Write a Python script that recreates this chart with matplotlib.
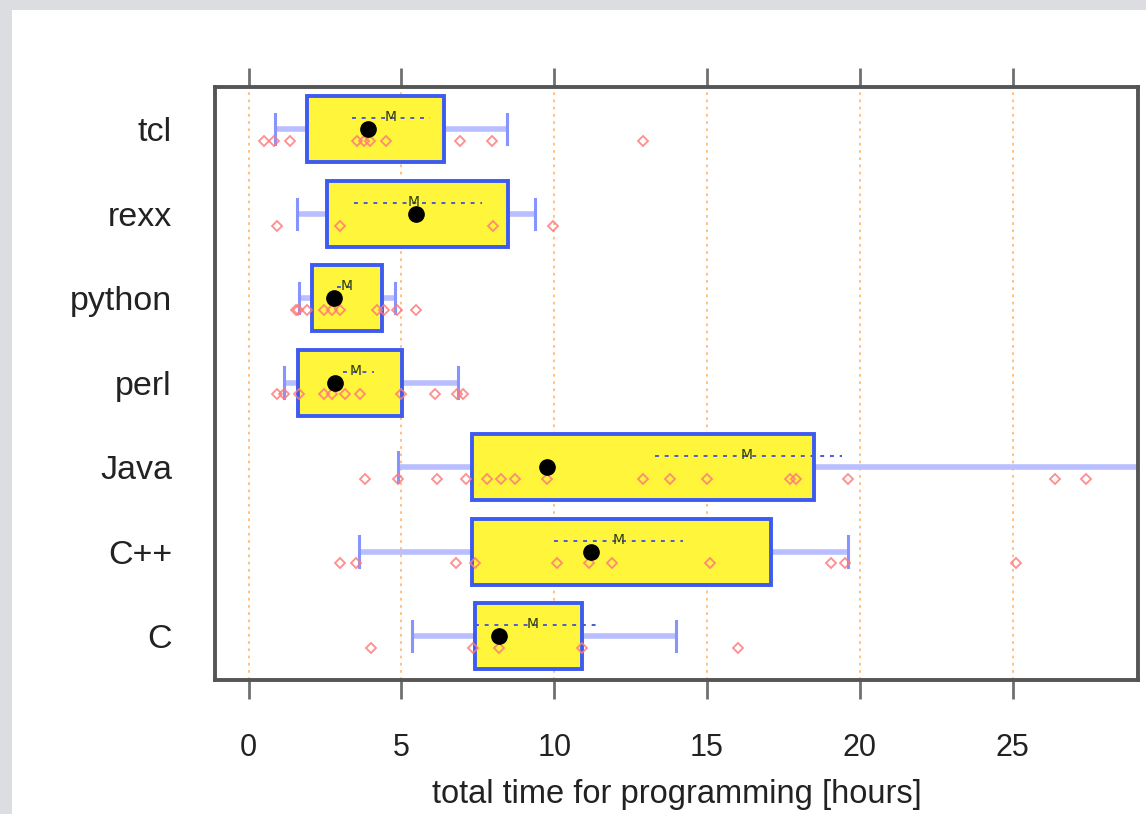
import numpy as np
import matplotlib
matplotlib.use("Agg")
import matplotlib.pyplot as plt
import matplotlib.patches as patches

# languages, bottom to top
langs = ["C", "C++", "Java", "perl", "python", "rexx", "tcl"]

# whiskers (10% / 90%), box (25% / 75%), median, mean, mean +- 1 SE
whisk_lo = [5.35, 3.6, 4.9, 1.15, 1.64, 1.59, 0.85]
whisk_hi = [14.0, 19.6, 40.0, 6.85, 4.8, 9.38, 8.47]   # Java runs off the panel
box_lo = [7.4, 7.3, 7.3, 1.6, 2.08, 2.55, 1.92]
box_hi = [10.9, 17.1, 18.5, 5.02, 4.37, 8.5, 6.38]
median = [8.2, 11.2, 9.75, 2.84, 2.81, 5.49, 3.91]
mean = [9.3, 12.1, 16.3, 3.5, 3.22, 5.4, 4.64]
se_lo = [7.4, 10.0, 13.3, 3.1, 2.9, 3.44, 3.39]
se_hi = [11.4, 14.2, 19.4, 4.1, 3.5, 7.64, 5.95]

# individual observations
points = [
    [4.0, 7.35, 8.2, 10.9, 16.0],
    [3.0, 3.5, 6.8, 7.4, 10.1, 11.15, 11.9, 15.1, 19.05, 19.5, 25.1],
    [3.8, 4.9, 6.15, 7.1, 7.8, 8.25, 8.7, 9.75, 12.9, 13.8, 15.0, 17.7,
     17.9, 19.6, 26.4, 27.4],
    [0.94, 1.15, 1.64, 2.46, 2.73, 3.17, 3.66, 4.97, 6.11, 6.82, 7.03],
    [1.54, 1.62, 1.92, 2.46, 2.73, 3.0, 4.2, 4.42, 4.86, 5.49],
    [0.92, 3.0, 8.0, 9.97],
    [0.5, 0.83, 1.37, 3.55, 3.76, 3.98, 4.48, 6.93, 7.96, 12.9],
]

fig = plt.figure(figsize=(11.46, 8.14), dpi=100)
fig.patch.set_facecolor("#dcdde0")
# white panel inside the grey frame
fig.patches.append(patches.Rectangle((12 / 1146, 0), 1, 1 - 10 / 814,
                                     transform=fig.transFigure,
                                     facecolor="white", edgecolor="none",
                                     zorder=-10))

ax = fig.add_axes([0.1876, 0.1646, 0.8054, 0.7285])
ax.set_facecolor("white")
ax.set_xlim(-1.1, 29.1)
ax.set_ylim(0.48, 7.5)

for v in range(0, 30, 5):
    ax.axvline(v, color="#ffbb77", lw=1.3, ls=(0, (1.5, 2.5)), zorder=0)

bh = 0.78
for i in range(len(langs)):
    y = i + 1
    # whiskers
    ax.plot([whisk_lo[i], box_lo[i]], [y, y], color="#b8beff", lw=4,
            solid_capstyle="butt", zorder=1)
    ax.plot([box_hi[i], whisk_hi[i]], [y, y], color="#b8beff", lw=4,
            solid_capstyle="butt", zorder=1)
    for w in (whisk_lo[i], whisk_hi[i]):
        ax.plot([w, w], [y - 0.18, y + 0.18], color="#8794ff", lw=2.2,
                zorder=1)
    # box
    ax.add_patch(patches.Rectangle((box_lo[i], y - bh / 2),
                                   box_hi[i] - box_lo[i], bh,
                                   facecolor="#fff53a", edgecolor="#3d5bf0",
                                   lw=2.8, zorder=2))
    # mean +- se
    ax.plot([se_lo[i], se_hi[i]], [y + 0.13, y + 0.13], color="#4a5ad8",
            lw=1.4, ls=(0, (2, 3)), zorder=3)
    ax.text(mean[i], y + 0.14, "M", ha="center", va="center", fontsize=10,
            color="#2e3a10", zorder=4)
    # observations
    px = np.array(points[i])
    ax.plot(px, np.full(len(px), y - 0.14), ls="none", marker="D", ms=5.5,
            mfc="none", mec="#ff7a7a", mew=1.3, alpha=0.85, zorder=3)
    # median
    ax.plot(median[i], y, "o", color="black", ms=11, zorder=5)

ax.set_yticks(range(1, len(langs) + 1))
ax.set_yticklabels(langs, fontsize=24.5, family="Liberation Sans",
                   color="#222222")
ax.tick_params(axis="y", length=0, pad=31)
ax.set_xticks(range(0, 30, 5))
ax.tick_params(axis="x", which="both", top=True, bottom=True, length=14,
               width=2, color="#707070", labelsize=22, pad=24,
               labelcolor="#222222")
for lab in ax.get_xticklabels():
    lab.set_family("Liberation Sans")
ax.set_xlabel("total time for programming [hours]", fontsize=23.5,
              family="Liberation Sans", color="#222222", labelpad=12)

for s in ax.spines.values():
    s.set_color("#555555")
    s.set_linewidth(2.8)

fig.savefig("out.png", dpi=100, facecolor=fig.get_facecolor())
